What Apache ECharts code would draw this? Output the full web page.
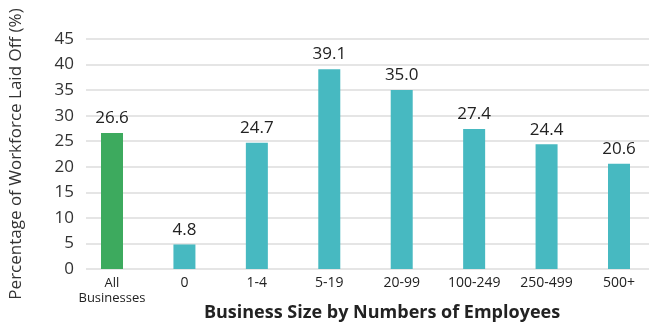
<!DOCTYPE html>
<html style="height: 100%">
<head>
    <meta charset="utf-8">
    <title>ECharts</title>
    <script src="https://cdn.jsdelivr.net/npm/echarts/dist/echarts.min.js"></script>
</head>
<body style="height: 100%; margin: 0; background: #fff">
    <div id="main" style="width: 649px; height: 325px"></div>
    <script type="text/javascript">
        // data
        var categories = ['All\nBusinesses', '0', '1-4', '5-19', '20-99', '100-249', '250-499', '500+'];
        var laidOff = [26.6, 4.8, 24.7, 39.1, 35.0, 27.4, 24.4, 20.6];
        var barColors = ['#3daa5e', '#47b9c1', '#47b9c1', '#47b9c1', '#47b9c1', '#47b9c1', '#47b9c1', '#47b9c1'];

        var myChart = echarts.init(document.getElementById('main'));
        var font = '"Open Sans", "Liberation Sans", sans-serif';

        var option = {
            animation: false,
            textStyle: { fontFamily: font },
            // grid 0 carries the gridlines and y labels, grid 1 the bars (centre to centre)
            grid: [
                { left: 85, right: 0, top: 39, bottom: 56 },
                { left: 112, right: 30, top: 39, bottom: 56 }
            ],
            xAxis: [
                { gridIndex: 0, type: 'value', show: false },
                {
                    gridIndex: 1,
                    type: 'category',
                    boundaryGap: false,
                    data: categories,
                    axisLine: { show: false },
                    axisTick: { show: false },
                    splitLine: { show: false },
                    axisLabel: {
                        interval: 0,
                        color: '#222', fontSize: 14, margin: 7, lineHeight: 15,
                        fontFamily: font,
                        formatter: function (v) {
                            return v.indexOf('\n') >= 0 ? '{s|' + v.replace('\n', '}\n{s|') + '}' : v;
                        },
                        rich: { s: { fontSize: 13, lineHeight: 15, color: '#222', fontFamily: font } }
                    }
                }
            ],
            yAxis: [
                {
                    gridIndex: 0,
                    type: 'value',
                    min: 0, max: 45, interval: 5,
                    axisLine: { show: false },
                    axisTick: { show: false },
                    axisLabel: { color: '#333', fontSize: 17, margin: 12, fontFamily: font },
                    splitLine: { lineStyle: { color: '#dcdcdc', width: 1.5 } },
                    name: 'Percentage of Workforce Laid Off (%)',
                    nameLocation: 'middle',
                    nameRotate: 90,
                    nameGap: 61,
                    nameTextStyle: { color: '#333', fontSize: 17, fontFamily: font }
                },
                { gridIndex: 1, type: 'value', min: 0, max: 45, show: false }
            ],
            graphic: [
                {
                    type: 'text',
                    x: 382, y: 313,
                    style: {
                        text: 'Business Size by Numbers of Employees',
                        fill: '#222',
                        font: 'bold 18px ' + font,
                        textAlign: 'center',
                        textVerticalAlign: 'middle'
                    }
                }
            ],
            series: [
                {
                    type: 'bar',
                    xAxisIndex: 1,
                    yAxisIndex: 1,
                    barWidth: 22,
                    data: laidOff.map(function (v, i) {
                        return { value: v, itemStyle: { color: barColors[i] } };
                    }),
                    label: {
                        show: true,
                        position: 'top',
                        distance: 6,
                        color: '#222',
                        fontSize: 17,
                        fontFamily: font,
                        formatter: function (p) { return p.value.toFixed(1); }
                    }
                }
            ]
        };

        myChart.setOption(option);
    </script>
</body>
</html>
